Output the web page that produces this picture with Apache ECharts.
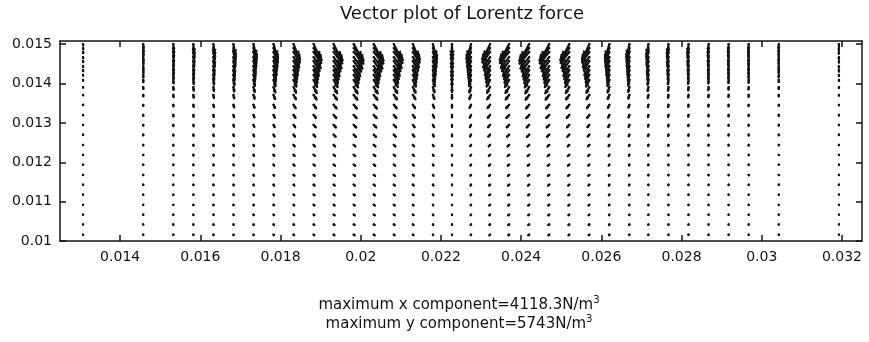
<!DOCTYPE html>
<html><head><meta charset="utf-8">
<script src="https://cdn.jsdelivr.net/npm/echarts@6/dist/echarts.min.js"></script>
<style>html,body{margin:0;padding:0;background:#fff}#c{width:869px;height:342px}</style>
</head><body><div id="c"></div>
<script>
// ---- data ----
const titleText = 'Vector plot of Lorentz force';
const maxXComp = '4118.3';
const maxYComp = '5743';
const xTicks = [0.014, 0.016, 0.018, 0.020, 0.022, 0.024, 0.026, 0.028, 0.030, 0.032];
const yTicks = [0.010, 0.011, 0.012, 0.013, 0.014, 0.015];
// mesh columns (x, m)
const xCols = [0.013075, 0.014575, 0.015325, 0.015825, 0.016325, 0.016825, 0.017325, 0.017825, 0.018325, 0.018825,
  0.019325, 0.019825, 0.020325, 0.020825, 0.0213, 0.0218, 0.022275, 0.02275, 0.023225, 0.0237,
  0.0242, 0.0247, 0.0252, 0.0257, 0.0262, 0.0267, 0.027175, 0.027675, 0.028175, 0.028675,
  0.029175, 0.029675, 0.030425, 0.031925];
// mesh rows (y, m), top to bottom
const yRows = [0.01500, 0.01490, 0.01480, 0.01467, 0.01457, 0.01444, 0.01434, 0.01422, 0.01409, 0.01391,
  0.01371, 0.01346, 0.01320, 0.01295, 0.01270, 0.01244, 0.01219, 0.01194, 0.01168, 0.01143,
  0.01118, 0.01092, 0.01067, 0.01042, 0.01016];
// x component of force per column (100 N/m^3), rows top to bottom
const fxCols = [
  [0.6,0.8,0.8,0.7,0.6,0.5,0.5,0.4,0.4,0.3,0.3,0.3,0.2,0.2,0.2,0.1,0.1,0.1,0.1,0.1,0.1,0.1,0.1,0.1,0.1],
  [0.9,1.2,1.2,1.1,0.9,0.8,0.7,0.6,0.5,0.5,0.5,0.4,0.4,0.3,0.3,0.2,0.2,0.2,0.2,0.2,0.1,0.1,0.1,0.1,0.1],
  [1.8,2.5,2.4,2.2,1.9,1.6,1.4,1.2,1.1,1,0.9,0.8,0.7,0.6,0.5,0.4,0.4,0.4,0.3,0.3,0.3,0.3,0.2,0.2,0.2],
  [3,4.1,4,3.6,3.1,2.7,2.3,2,1.8,1.6,1.5,1.3,1.2,1.1,0.9,0.7,0.7,0.6,0.6,0.5,0.5,0.4,0.4,0.4,0.4],
  [4.5,6.2,6,5.4,4.7,4.1,3.5,3,2.7,2.4,2.3,2,1.8,1.6,1.4,1.1,1,0.9,0.8,0.8,0.7,0.6,0.6,0.6,0.5],
  [6.6,9.1,8.8,7.9,6.8,5.9,5.1,4.4,4,3.5,3.3,2.9,2.6,2.3,2,1.5,1.4,1.3,1.2,1.1,1,0.9,0.9,0.8,0.8],
  [9.6,13.2,12.8,11.5,9.9,8.6,7.4,6.4,5.8,5.1,4.8,4.2,3.8,3.4,2.9,2.2,2.1,1.9,1.8,1.6,1.4,1.3,1.3,1.2,1.2],
  [13.5,18.5,18,16.2,14,12.2,10.4,9,8.1,7.2,6.8,5.9,5.4,4.7,4.1,3.2,2.9,2.7,2.5,2.3,2,1.9,1.8,1.7,1.6],
  [19.5,26.8,26,23.4,20.2,17.6,15,13,11.7,10.4,9.8,8.5,7.8,6.8,5.9,4.6,4.2,3.9,3.6,3.3,2.9,2.7,2.6,2.5,2.3],
  [24,33,32,28.8,24.8,21.6,18.4,16,14.4,12.8,12,10.4,9.6,8.4,7.2,5.6,5.2,4.8,4.4,4,3.6,3.4,3.2,3,2.9],
  [27,37.1,36,32.4,27.9,24.3,20.7,18,16.2,14.4,13.5,11.7,10.8,9.5,8.1,6.3,5.9,5.4,5,4.5,4.1,3.8,3.6,3.4,3.2],
  [30,41,40,36,31,27,23,20,18,16,15,13,12,10.5,9,7,6.5,6,5.5,5,4.5,4.2,4,3.8,3.6],
  [29.5,40.8,39.8,36,31,27,23,20,18,16,15,13,12,10.5,9,7,6.5,6,5.5,5,4.5,4.2,4,3.8,3.6],
  [27,37.1,36,32.4,27.9,24.3,20.7,18,16.2,14.4,13.5,11.7,10.8,9.5,8.1,6.3,5.9,5.4,5,4.5,4.1,3.8,3.6,3.4,3.2],
  [21,28.8,28,25.2,21.7,18.9,16.1,14,12.6,11.2,10.5,9.1,8.4,7.4,6.3,4.9,4.6,4.2,3.9,3.5,3.2,2.9,2.8,2.7,2.5],
  [12,16.5,16,14.4,12.4,10.8,9.2,8,7.2,6.4,6,5.2,4.8,4.2,3.6,2.8,2.6,2.4,2.2,2,1.8,1.7,1.6,1.5,1.4],
  [0,0,0,0,0,0,0,0,0,0,0,0,0,0,0,0,0,0,0,0,0,0,0,0,0],
  [-13.5,-18.5,-18,-16.2,-14,-12.2,-10.4,-9,-8.1,-7.2,-6.8,-5.9,-5.4,-4.7,-4.1,-3.2,-2.9,-2.7,-2.5,-2.3,-2,-1.9,-1.8,-1.7,-1.6],
  [-24,-33,-32,-28.8,-24.8,-21.6,-18.4,-16,-14.4,-12.8,-12,-10.4,-9.6,-8.4,-7.2,-5.6,-5.2,-4.8,-4.4,-4,-3.6,-3.4,-3.2,-3,-2.9],
  [-28.5,-39.1,-38,-34.2,-29.5,-25.7,-21.9,-19,-17.1,-15.2,-14.3,-12.4,-11.4,-10,-8.6,-6.7,-6.2,-5.7,-5.2,-4.8,-4.3,-4,-3.8,-3.6,-3.4],
  [-30,-41.2,-40,-36,-31,-27,-23,-20,-18,-16,-15,-13,-12,-10.5,-9,-7,-6.5,-6,-5.5,-5,-4.5,-4.2,-4,-3.8,-3.6],
  [-29.6,-40.5,-39.6,-35.8,-30.8,-26.9,-23,-20,-18,-16,-15,-13,-12,-10.5,-9,-7,-6.5,-6,-5.5,-5,-4.5,-4.2,-4,-3.8,-3.6],
  [-27,-37.1,-36,-32.4,-27.9,-24.3,-20.7,-18,-16.2,-14.4,-13.5,-11.7,-10.8,-9.5,-8.1,-6.3,-5.9,-5.4,-5,-4.5,-4.1,-3.8,-3.6,-3.4,-3.2],
  [-22.5,-30.9,-30,-27,-23.3,-20.3,-17.3,-15,-13.5,-12,-11.3,-9.8,-9,-7.9,-6.8,-5.3,-4.9,-4.5,-4.1,-3.8,-3.4,-3.2,-3,-2.9,-2.7],
  [-13.5,-18.5,-18,-16.2,-14,-12.2,-10.4,-9,-8.1,-7.2,-6.8,-5.9,-5.4,-4.7,-4.1,-3.2,-2.9,-2.7,-2.5,-2.3,-2,-1.9,-1.8,-1.7,-1.6],
  [-9,-12.4,-12,-10.8,-9.3,-8.1,-6.9,-6,-5.4,-4.8,-4.5,-3.9,-3.6,-3.2,-2.7,-2.1,-2,-1.8,-1.7,-1.5,-1.4,-1.3,-1.2,-1.1,-1.1],
  [-6,-8.2,-8,-7.2,-6.2,-5.4,-4.6,-4,-3.6,-3.2,-3,-2.6,-2.4,-2.1,-1.8,-1.4,-1.3,-1.2,-1.1,-1,-0.9,-0.8,-0.8,-0.8,-0.7],
  [-4.2,-5.8,-5.6,-5,-4.3,-3.8,-3.2,-2.8,-2.5,-2.2,-2.1,-1.8,-1.7,-1.5,-1.3,-1,-0.9,-0.8,-0.8,-0.7,-0.6,-0.6,-0.6,-0.5,-0.5],
  [-3,-4.1,-4,-3.6,-3.1,-2.7,-2.3,-2,-1.8,-1.6,-1.5,-1.3,-1.2,-1.1,-0.9,-0.7,-0.7,-0.6,-0.6,-0.5,-0.5,-0.4,-0.4,-0.4,-0.4],
  [-2.1,-2.9,-2.8,-2.5,-2.2,-1.9,-1.6,-1.4,-1.3,-1.1,-1.1,-0.9,-0.8,-0.7,-0.6,-0.5,-0.5,-0.4,-0.4,-0.4,-0.3,-0.3,-0.3,-0.3,-0.3],
  [-1.5,-2.1,-2,-1.8,-1.6,-1.4,-1.2,-1,-0.9,-0.8,-0.8,-0.7,-0.6,-0.5,-0.5,-0.4,-0.3,-0.3,-0.3,-0.3,-0.2,-0.2,-0.2,-0.2,-0.2],
  [-1.2,-1.6,-1.6,-1.4,-1.2,-1.1,-0.9,-0.8,-0.7,-0.6,-0.6,-0.5,-0.5,-0.4,-0.4,-0.3,-0.3,-0.2,-0.2,-0.2,-0.2,-0.2,-0.2,-0.2,-0.1],
  [-0.6,-0.8,-0.8,-0.7,-0.6,-0.5,-0.5,-0.4,-0.4,-0.3,-0.3,-0.3,-0.2,-0.2,-0.2,-0.1,-0.1,-0.1,-0.1,-0.1,-0.1,-0.1,-0.1,-0.1,-0.1],
  [-0.3,-0.4,-0.4,-0.4,-0.3,-0.3,-0.2,-0.2,-0.2,-0.2,-0.2,-0.1,-0.1,-0.1,-0.1,-0.1,-0.1,-0.1,-0.1,-0.1,0,0,0,0,0]
];
// downward y component of force per column (100 N/m^3), rows top to bottom
const fyDownCols = [
  [5.7,5.3,4.9,4.8,4.4,4.3,4,3.5,3.1,2.7,2,1.6,1.3,1.1,0.9,0.7,0.6,0.5,0.4,0.4,0.3,0.3,0.3,0.3,0.2],
  [17.2,15.9,14.7,14.4,13.2,12.9,12,10.5,9.3,8,6,4.7,3.9,3.3,2.7,2,1.7,1.4,1.3,1.1,1,0.9,0.8,0.8,0.7],
  [25.8,23.9,22,21.6,19.8,19.4,18,15.8,14,11.9,9,7,5.9,5,4.1,3,2.5,2.2,1.9,1.7,1.5,1.4,1.3,1.2,1.1],
  [31.6,29.2,27,26.4,24.2,23.7,22,19.3,17,14.6,11,8.5,7.2,6,5,3.6,3,2.6,2.3,2.1,1.9,1.7,1.5,1.4,1.3],
  [35.6,32.9,30.4,29.8,27.3,26.7,24.8,21.7,19.2,16.4,12.4,9.6,8.1,6.8,5.6,4.1,3.4,3,2.6,2.4,2.1,1.9,1.7,1.6,1.5],
  [40.2,37.1,34.3,33.6,30.8,30.1,28,24.5,21.7,18.6,14,10.9,9.1,7.7,6.3,4.6,3.9,3.4,2.9,2.7,2.4,2.2,2,1.8,1.7],
  [44.8,41.3,38.2,37.4,34.3,33.5,31.2,27.3,24.2,20.7,15.6,12.1,10.1,8.6,7,5.1,4.3,3.7,3.3,3,2.7,2.4,2.2,2,1.9],
  [48.8,45,41.7,40.8,37.4,36.6,34,29.8,26.4,22.5,17,13.2,11.1,9.4,7.7,5.6,4.7,4.1,3.6,3.2,2.9,2.6,2.4,2.2,2],
  [51.7,47.7,44.1,43.2,39.6,38.7,36,31.5,27.9,23.9,18,14,11.7,9.9,8.1,5.9,5,4.3,3.8,3.4,3.1,2.8,2.5,2.3,2.2],
  [54.5,50.4,46.6,45.6,41.8,40.9,38,33.3,29.5,25.2,19,14.7,12.4,10.5,8.6,6.3,5.2,4.6,4,3.6,3.2,2.9,2.7,2.5,2.3],
  [56.3,51.9,48,47,43.1,42.1,39.2,34.3,30.4,26,19.6,15.2,12.7,10.8,8.8,6.5,5.4,4.7,4.1,3.7,3.3,3,2.7,2.5,2.4],
  [57,53,49,48,44,43,40,35,31,26.5,20,15.5,13,11,9,6.6,5.5,4.8,4.2,3.8,3.4,3.1,2.8,2.6,2.4],
  [57.4,53,49,48,44,43,40,35,31,26.5,20,15.5,13,11,9,6.6,5.5,4.8,4.2,3.8,3.4,3.1,2.8,2.6,2.4],
  [54.5,50.4,46.6,45.6,41.8,40.9,38,33.3,29.5,25.2,19,14.7,12.4,10.5,8.6,6.3,5.2,4.6,4,3.6,3.2,2.9,2.7,2.5,2.3],
  [51.7,47.7,44.1,43.2,39.6,38.7,36,31.5,27.9,23.9,18,14,11.7,9.9,8.1,5.9,5,4.3,3.8,3.4,3.1,2.8,2.5,2.3,2.2],
  [48.8,45,41.7,40.8,37.4,36.6,34,29.8,26.4,22.5,17,13.2,11.1,9.4,7.7,5.6,4.7,4.1,3.6,3.2,2.9,2.6,2.4,2.2,2],
  [45.9,42.4,39.2,38.4,35.2,34.4,32,28,24.8,21.2,16,12.4,10.4,8.8,7.2,5.3,4.4,3.8,3.4,3,2.7,2.5,2.2,2.1,1.9],
  [48.8,45,41.7,40.8,37.4,36.6,34,29.8,26.4,22.5,17,13.2,11.1,9.4,7.7,5.6,4.7,4.1,3.6,3.2,2.9,2.6,2.4,2.2,2],
  [51.7,47.7,44.1,43.2,39.6,38.7,36,31.5,27.9,23.9,18,14,11.7,9.9,8.1,5.9,5,4.3,3.8,3.4,3.1,2.8,2.5,2.3,2.2],
  [54.5,50.4,46.6,45.6,41.8,40.9,38,33.3,29.5,25.2,19,14.7,12.4,10.5,8.6,6.3,5.2,4.6,4,3.6,3.2,2.9,2.7,2.5,2.3],
  [57,53,49,48,44,43,40,35,31,26.5,20,15.5,13,11,9,6.6,5.5,4.8,4.2,3.8,3.4,3.1,2.8,2.6,2.4],
  [56.3,51.9,48,47,43.1,42.1,39.2,34.3,30.4,26,19.6,15.2,12.7,10.8,8.8,6.5,5.4,4.7,4.1,3.7,3.3,3,2.7,2.5,2.4],
  [54.5,50.4,46.6,45.6,41.8,40.9,38,33.3,29.5,25.2,19,14.7,12.4,10.5,8.6,6.3,5.2,4.6,4,3.6,3.2,2.9,2.7,2.5,2.3],
  [51.7,47.7,44.1,43.2,39.6,38.7,36,31.5,27.9,23.9,18,14,11.7,9.9,8.1,5.9,5,4.3,3.8,3.4,3.1,2.8,2.5,2.3,2.2],
  [48.8,45,41.7,40.8,37.4,36.6,34,29.8,26.4,22.5,17,13.2,11.1,9.4,7.7,5.6,4.7,4.1,3.6,3.2,2.9,2.6,2.4,2.2,2],
  [43,39.8,36.8,36,33,32.3,30,26.3,23.3,19.9,15,11.6,9.8,8.3,6.8,5,4.1,3.6,3.2,2.9,2.6,2.3,2.1,2,1.8],
  [37.3,34.5,31.9,31.2,28.6,28,26,22.8,20.2,17.2,13,10.1,8.5,7.2,5.9,4.3,3.6,3.1,2.7,2.5,2.2,2,1.8,1.7,1.6],
  [33.3,30.7,28.4,27.8,25.5,24.9,23.2,20.3,18,15.4,11.6,9,7.5,6.4,5.2,3.8,3.2,2.8,2.4,2.2,2,1.8,1.6,1.5,1.4],
  [29.8,27.6,25.5,25,22.9,22.4,20.8,18.2,16.1,13.8,10.4,8.1,6.8,5.7,4.7,3.4,2.9,2.5,2.2,2,1.8,1.6,1.5,1.4,1.2],
  [27,24.9,23,22.6,20.7,20.2,18.8,16.5,14.6,12.5,9.4,7.3,6.1,5.2,4.2,3.1,2.6,2.3,2,1.8,1.6,1.5,1.3,1.2,1.1],
  [24.1,22.3,20.6,20.2,18.5,18.1,16.8,14.7,13,11.1,8.4,6.5,5.5,4.6,3.8,2.8,2.3,2,1.8,1.6,1.4,1.3,1.2,1.1,1],
  [21.8,20.1,18.6,18.2,16.7,16.3,15.2,13.3,11.8,10.1,7.6,5.9,4.9,4.2,3.4,2.5,2.1,1.8,1.6,1.4,1.3,1.2,1.1,1,0.9],
  [17.2,15.9,14.7,14.4,13.2,12.9,12,10.5,9.3,8,6,4.7,3.9,3.3,2.7,2,1.7,1.4,1.3,1.1,1,0.9,0.8,0.8,0.7],
  [8.6,8,7.4,7.2,6.6,6.5,6,5.3,4.7,4,3,2.3,2,1.7,1.4,1,0.8,0.7,0.6,0.6,0.5,0.5,0.4,0.4,0.4]
];

// ---- chart ----
const ARROW_SCALE = 6.0e-6;   // metres of plot per 100 N/m^3
const FONT = 'DejaVu Sans';
const INK = '#141414';
const fmt = v => String(+(+v).toFixed(3));

const vecData = [];
xCols.forEach((x, c) => {
  yRows.forEach((y, r) => {
    vecData.push([x, y, fxCols[c][r], fyDownCols[c][r]]);
  });
});

function renderArrow(params, api) {
  const x = api.value(0), y = api.value(1), u = api.value(2), vd = api.value(3);
  const p0 = api.coord([x, y]);
  const p1 = api.coord([x + u * ARROW_SCALE, y - vd * ARROW_SCALE]);
  const dx = p1[0] - p0[0], dy = p1[1] - p0[1];
  const a = 0.35, b = 0.5;
  const h1 = [p1[0] - a * (dx + b * dy), p1[1] - a * (dy - b * dx)];
  const h2 = [p1[0] - a * (dx - b * dy), p1[1] - a * (dy + b * dx)];
  const st = { stroke: INK, lineWidth: 2.3, fill: null, lineJoin: 'round', lineCap: 'round' };
  return {
    type: 'group',
    children: [
      { type: 'circle', shape: { cx: p0[0], cy: p0[1], r: 1.15 }, style: { fill: INK } },
      { type: 'polyline', shape: { points: [p0, p1] }, style: st },
      { type: 'polygon', shape: { points: [h1, p1, h2] }, style: { fill: INK, stroke: INK, lineWidth: 1.6, lineJoin: 'round' } }
    ]
  };
}

const axisCommon = {
  type: 'value',
  axisLine: { show: true, onZero: false, lineStyle: { color: INK, width: 1.5 } },
  splitLine: { show: false },
};

const chart = echarts.init(document.getElementById('c'), null, { renderer: 'canvas' });
chart.setOption({
  animation: false,
  backgroundColor: '#ffffff',
  grid: { left: 60, right: 7, top: 41, bottom: 101, containLabel: false, outerBoundsMode: 'none' },
  xAxis: [
    Object.assign({}, axisCommon, {
      position: 'bottom', min: 0.0125, max: 0.0325,
      axisTick: { show: true, inside: true, length: 6, customValues: xTicks, lineStyle: { color: INK, width: 1.5 } },
      axisLabel: { show: true, customValues: xTicks, formatter: fmt, margin: 9, fontFamily: FONT, fontSize: 14, color: INK }
    }),
    Object.assign({}, axisCommon, {
      position: 'top', min: 0.0125, max: 0.0325,
      axisTick: { show: true, inside: true, length: 6, customValues: xTicks, lineStyle: { color: INK, width: 1.5 } },
      axisLabel: { show: false }
    })
  ],
  yAxis: [
    Object.assign({}, axisCommon, {
      position: 'left', min: 0.01, max: 0.01508,
      axisTick: { show: true, inside: true, length: 6, customValues: yTicks, lineStyle: { color: INK, width: 1.5 } },
      axisLabel: { show: true, customValues: yTicks, formatter: fmt, margin: 8, fontFamily: FONT, fontSize: 14, color: INK }
    }),
    Object.assign({}, axisCommon, {
      position: 'right', min: 0.01, max: 0.01508,
      axisTick: { show: true, inside: true, length: 6, customValues: yTicks, lineStyle: { color: INK, width: 1.5 } },
      axisLabel: { show: false }
    })
  ],
  graphic: [
    { type: 'text', x: 462, y: 14, style: { text: titleText, fontFamily: FONT, fontSize: 18, fill: INK, align: 'center', verticalAlign: 'middle' } },
    { type: 'text', x: 459, y: 305, style: {
        text: 'maximum x component=' + maxXComp + 'N/m{sup|3}',
        fontFamily: FONT, fontSize: 15, fill: INK, align: 'center', verticalAlign: 'middle',
        rich: { sup: { fontFamily: FONT, fontSize: 10, fill: INK, padding: [0, 0, 9, 0] } } } },
    { type: 'text', x: 459, y: 324, style: {
        text: 'maximum y component=' + maxYComp + 'N/m{sup|3}',
        fontFamily: FONT, fontSize: 15, fill: INK, align: 'center', verticalAlign: 'middle',
        rich: { sup: { fontFamily: FONT, fontSize: 10, fill: INK, padding: [0, 0, 9, 0] } } } }
  ],
  series: [{
    type: 'custom',
    xAxisIndex: 0, yAxisIndex: 0,
    clip: true,
    renderItem: renderArrow,
    dimensions: ['x', 'y', 'fx', 'fyDown'],
    encode: { x: 0, y: 1 },
    data: vecData,
    silent: true
  }]
});
</script></body></html>
